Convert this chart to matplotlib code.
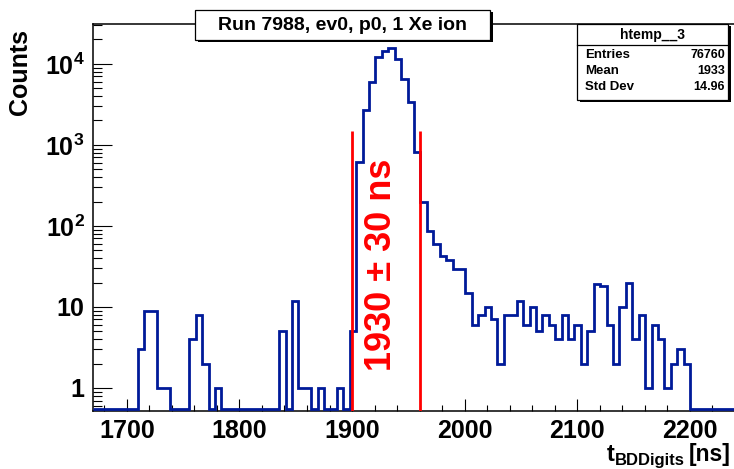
import numpy as np
import matplotlib
matplotlib.use("Agg")
import matplotlib.pyplot as plt
from matplotlib.ticker import MultipleLocator, LogLocator, NullFormatter, FixedLocator
from matplotlib.patches import Rectangle
from matplotlib.lines import Line2D

plt.rcParams['font.family'] = ['Liberation Sans', 'DejaVu Sans']
plt.rcParams['mathtext.fontset'] = 'custom'
plt.rcParams['mathtext.rm'] = 'Liberation Sans:bold'
plt.rcParams['mathtext.bf'] = 'Liberation Sans:bold'
plt.rcParams['mathtext.it'] = 'Liberation Sans:bold'
plt.rcParams['mathtext.default'] = 'rm'

# ---------------- data ----------------
title = "Run 7988, ev0, p0, 1 Xe ion"
hist_name = "htemp__3"
stat_labels = ["Entries", "Mean", "Std Dev"]
stat_values = ["76760", "1933", "14.96"]

x_low, x_high, n_bins = 1670.0, 2240.0, 100
counts = np.array([
    0, 0, 0, 0, 0, 0, 0, 3, 9, 9,            # 0-9
    1, 1, 0, 0, 0, 4, 8, 2, 0, 1,            # 10-19
    0, 0, 0, 0, 0, 0, 0, 0, 0, 5,            # 20-29
    0, 12, 1, 1, 0, 1, 0, 0, 1, 0,           # 30-39
    5, 620, 2700, 5900, 12000, 14200, 15600, 11600, 6500, 3400,  # 40-49
    820, 196, 86, 59, 42, 38, 29, 29, 15, 6,  # 50-59
    8, 10, 7, 2, 8, 8, 12, 6, 10, 5,          # 60-69
    8, 6, 4, 8, 4, 6, 2, 5, 19, 18,           # 70-79
    6, 2, 10, 20, 4, 8, 1, 6, 4, 1,           # 80-89
    2, 3, 2, 0, 0, 0, 0, 0, 0, 0,             # 90-99
], dtype=float)

window_center = 1930
window_half = 30
window_line_top = 1500
window_label = "1930 \u00b1 30 ns"

y_ticks = [1, 10, 100, 1000, 10000]
y_tick_labels = ["1", "10", r"$10^{2}$", r"$10^{3}$", r"$10^{4}$"]
x_ticks = [1700, 1800, 1900, 2000, 2100, 2200]
x_title_main = "t"
x_title_sub = "BDDigits"
x_title_unit = "[ns]"
y_title = "Counts"

# ---------------- figure ----------------
W, H = 734, 469
fig = plt.figure(figsize=(W / 100, H / 100), dpi=100)

def fx(px):
    return px / W

def fy(py):
    return 1 - py / H

left_px, right_px, top_px, bot_px = 93, 735, 24, 411
ax = fig.add_axes([fx(left_px), fy(bot_px), (right_px - left_px) / W, (bot_px - top_px) / H])

y_min, y_max = 0.52, 3.1e4
empty_level = 0.548   # ROOT draws empty bins just on the frame bottom
edges = np.linspace(x_low, x_high, n_bins + 1)
draw_vals = np.where(counts > 0, counts, empty_level)

ax.stairs(draw_vals, edges, baseline=None, color='#001a99', linewidth=2.0, zorder=3)
ax.vlines([window_center - window_half, window_center + window_half], y_min, window_line_top,
          color='#ff0000', linewidth=2.0, zorder=4)
ax.text(1926, 33, window_label, rotation=90, color='#ff0000', fontsize=26,
        fontweight='bold', ha='center', va='center', zorder=5)

ax.set_yscale('log')
ax.set_xlim(x_low, x_high)
ax.set_ylim(y_min, y_max)

ax.xaxis.set_major_locator(FixedLocator(x_ticks))
ax.set_xticklabels([str(v) for v in x_ticks])
ax.xaxis.set_minor_locator(MultipleLocator(20))
ax.yaxis.set_major_locator(FixedLocator(y_ticks))
ax.set_yticklabels(y_tick_labels)
ax.yaxis.set_minor_locator(LogLocator(base=10, subs=np.arange(2, 10), numticks=20))
ax.yaxis.set_minor_formatter(NullFormatter())

ax.tick_params(axis='x', which='major', direction='in', length=8.5, width=0.8, pad=5.5,
               labelsize=18)
ax.tick_params(axis='x', which='minor', direction='in', length=4.2, width=0.8)
ax.tick_params(axis='y', which='major', direction='in', length=13.5, width=0.8, pad=6,
               labelsize=18)
ax.tick_params(axis='y', which='minor', direction='in', length=6.8, width=0.8)
for lab in ax.get_xticklabels() + ax.get_yticklabels():
    lab.set_fontweight('bold')

for s in ax.spines.values():
    s.set_linewidth(1.1)

# axis titles
fig.text(fx(20), fy(29), y_title, rotation=90, ha='center', va='top',
         fontsize=18, fontweight='bold')

renderer = fig.canvas.get_renderer()
unit_txt = fig.text(fx(731), fy(461), x_title_unit, ha='right', va='baseline',
                    fontsize=16.5, fontweight='bold')
ub = unit_txt.get_window_extent(renderer)
sub_txt = fig.text((ub.x0 - 4) / W, fy(465), x_title_sub, ha='right', va='baseline',
                   fontsize=12, fontweight='bold')
sb = sub_txt.get_window_extent(renderer)
fig.text((sb.x0 - 0.5) / W, fy(461), x_title_main, ha='right', va='baseline',
         fontsize=17, fontweight='bold')

# title box with shadow
tb_l, tb_r, tb_t, tb_b = 195, 490, 10, 40
fig.patches.append(Rectangle((fx(tb_l + 2.5), fy(tb_b + 2.5)), (tb_r - tb_l) / W, (tb_b - tb_t) / H,
                             transform=fig.transFigure, facecolor='black', edgecolor='none', zorder=5))
fig.patches.append(Rectangle((fx(tb_l), fy(tb_b)), (tb_r - tb_l) / W, (tb_b - tb_t) / H,
                             transform=fig.transFigure, facecolor='white', edgecolor='black',
                             linewidth=0.9, zorder=6))
fig.text(fx((tb_l + tb_r) / 2), fy((tb_t + tb_b) / 2 + 1), title, ha='center', va='center',
         fontsize=14, fontweight='bold', zorder=7)

# stats box with shadow
sb_l, sb_r, sb_t, sb_b = 577, 728, 24, 100
fig.patches.append(Rectangle((fx(sb_l + 2.5), fy(sb_b + 2.5)), (sb_r - sb_l) / W, (sb_b - sb_t) / H,
                             transform=fig.transFigure, facecolor='black', edgecolor='none', zorder=5))
fig.patches.append(Rectangle((fx(sb_l), fy(sb_b)), (sb_r - sb_l) / W, (sb_b - sb_t) / H,
                             transform=fig.transFigure, facecolor='white', edgecolor='black',
                             linewidth=0.9, zorder=6))
fig.lines.append(Line2D([fx(sb_l), fx(sb_r)], [fy(45), fy(45)], transform=fig.transFigure,
                        color='black', linewidth=0.9, zorder=7))
fig.text(fx((sb_l + sb_r) / 2), fy(35), hist_name, ha='center', va='center',
         fontsize=10, fontweight='bold', zorder=7)
row_y = [55, 71, 87]
for lab, val, yy in zip(stat_labels, stat_values, row_y):
    fig.text(fx(585), fy(yy), lab, ha='left', va='center', fontsize=9.5,
             fontweight='bold', zorder=7)
    fig.text(fx(725), fy(yy), val, ha='right', va='center', fontsize=9,
             fontweight='bold', zorder=7)

fig.savefig("out.png", dpi=100)
